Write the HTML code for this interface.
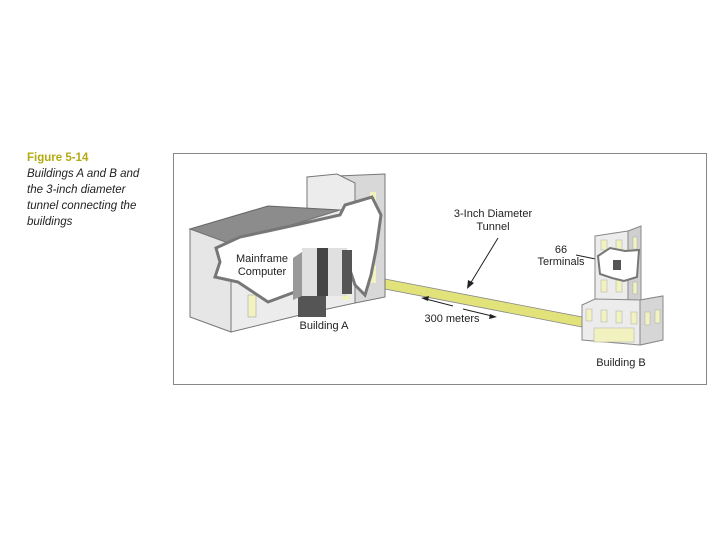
<!DOCTYPE html>
<html><head><meta charset="utf-8"><style>
body{margin:0;width:720px;height:540px;background:#fff;overflow:hidden;font-family:"Liberation Sans",sans-serif}
.cap{position:absolute;left:27px;top:150px;font-size:11.5px;line-height:16px;font-style:italic;color:#222}
.cap b{font-style:normal;color:#b3aa10}
</style></head><body>
<div class="cap"><b>Figure 5-14</b><br>Buildings A and B and<br>the 3-inch diameter<br>tunnel connecting the<br>buildings</div>
<svg width="720" height="540" style="position:absolute;left:0;top:0" font-family="Liberation Sans, sans-serif">
<rect x="173.5" y="153.5" width="533" height="231" fill="none" stroke="#888"/>
<!-- tunnel -->
<polygon points="385,279 582,317 582,327 385,289" fill="#e2e27a" stroke="#888" stroke-width="0.8"/>
<!-- Building A -->
<polygon points="307,177 337,176 385,174 385,297 355,303 355,183" fill="#d8d8d8" stroke="#777"/>
<polygon points="307,177 337,174 355,183 355,210 307,214" fill="#ececec" stroke="#777"/>
<polygon points="190,229 268,206 340,210 231,244" fill="#8c8c8c" stroke="#666"/>
<polygon points="190,229 231,244 231,332 190,317" fill="#e6e6e6" stroke="#777"/>
<polygon points="231,244 340,210 355,210 355,303 300,315 231,332" fill="#ececec" stroke="#777"/>
<rect x="370" y="192" width="6" height="18" fill="#f2f2c0"/>
<rect x="370" y="232" width="6" height="18" fill="#f2f2c0"/>
<rect x="370" y="265" width="6" height="18" fill="#f2f2c0"/>
<rect x="248" y="295" width="8" height="22" fill="#f2f2c0" stroke="#999" stroke-width="0.5"/>
<rect x="342" y="280" width="8" height="20" fill="#f2f2c0"/>
<rect x="298" y="293" width="28" height="24" fill="#555"/>
<path d="M216,248 L240,237 L268,231 L300,224 L340,215 L345,205 L372,197 L381,215 L376,250 L371,275 L365,295 L355,285 L346,258 L336,275 L324,288 L295,292 L268,302 L250,290 L238,282 L215,277 L220,262 Z" fill="#fff" stroke="#777" stroke-width="3"/>
<polygon points="293,258 302,252 302,296 293,300" fill="#999"/>
<rect x="302" y="248" width="45" height="48" fill="#e0e0e0"/>
<rect x="317" y="248" width="11" height="48" fill="#444"/>
<rect x="342" y="250" width="10" height="44" fill="#555"/>
<text x="262" y="262" font-size="11" text-anchor="middle" fill="#222">Mainframe</text>
<text x="262" y="275" font-size="11" text-anchor="middle" fill="#222">Computer</text>
<text x="324" y="329" font-size="11" text-anchor="middle" fill="#222">Building A</text>
<!-- labels -->
<text x="493" y="217" font-size="11" text-anchor="middle" fill="#222">3-Inch Diameter</text>
<text x="493" y="230" font-size="11" text-anchor="middle" fill="#222">Tunnel</text>
<line x1="498" y1="238" x2="470" y2="284" stroke="#222"/>
<polygon points="467,289 468,280 474,283" fill="#222"/>
<line x1="426" y1="299" x2="453" y2="306" stroke="#222"/>
<polygon points="421,298 429,296 428,301" fill="#222"/>
<line x1="463" y1="309" x2="492" y2="316" stroke="#222"/>
<polygon points="497,317 489,319 490,314" fill="#222"/>
<text x="452" y="322" font-size="11" text-anchor="middle" fill="#222">300 meters</text>
<text x="561" y="253" font-size="11" text-anchor="middle" fill="#222">66</text>
<text x="561" y="265" font-size="11" text-anchor="middle" fill="#222">Terminals</text>
<line x1="576" y1="255" x2="610" y2="262" stroke="#222"/>
<!-- Building B -->
<polygon points="595,236 628,231 628,305 595,300" fill="#ececec" stroke="#888"/>
<polygon points="628,231 641,226 641,300 628,305" fill="#cfcfcf" stroke="#888"/>
<polygon points="582,305 595,299 640,300 663,296 663,340 640,345 582,340" fill="#ececec" stroke="#888"/>
<polygon points="640,300 663,296 663,340 640,345" fill="#d6d6d6" stroke="#888"/>
<g fill="#f2f2c0" stroke="#aaa" stroke-width="0.5">
<rect x="601" y="240" width="6" height="10"/><rect x="616" y="240" width="6" height="10"/>
<rect x="601" y="280" width="6" height="12"/><rect x="616" y="280" width="6" height="12"/>
<rect x="586" y="309" width="6" height="12"/><rect x="601" y="310" width="6" height="12"/><rect x="616" y="311" width="6" height="12"/><rect x="631" y="312" width="6" height="12"/>
<rect x="645" y="312" width="5" height="13"/><rect x="655" y="310" width="5" height="13"/>
<rect x="594" y="328" width="40" height="14"/>
<rect x="633" y="237" width="4" height="12"/><rect x="633" y="262" width="4" height="12"/><rect x="633" y="282" width="4" height="12"/>
</g>
<path d="M598,256 L610,248 L625,251 L639,250 L637,277 L624,281 L612,278 L600,274 Z" fill="#fff" stroke="#777" stroke-width="2"/>
<rect x="613" y="260" width="8" height="10" fill="#555"/>
<text x="621" y="366" font-size="11" text-anchor="middle" fill="#222">Building B</text>
</svg>
</body></html>
